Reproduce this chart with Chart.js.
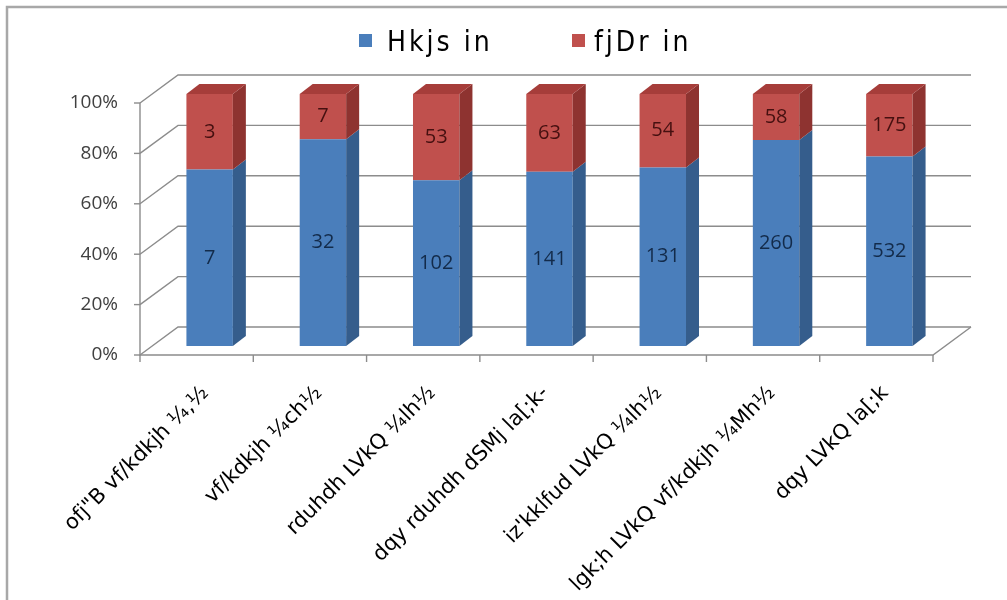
<!DOCTYPE html>
<html>
<head>
<meta charset="utf-8">
<script src="https://cdn.jsdelivr.net/npm/chart.js@4.4.0/dist/chart.umd.min.js"></script>
<style>
  html, body { margin: 0; padding: 0; background: #fff; }
  #wrap { position: relative; width: 1007px; height: 600px; }
</style>
</head>
<body>
<div id="wrap"><canvas id="staffChart"></canvas></div>
<script>
// Chart data (Kruti Dev encoded Hindi, kept as in the source)
const categories = [
  'ofj"B vf/kdkjh ¼,½',
  'vf/kdkjh ¼ch½',
  'rduhdh LVkQ ¼lh½',
  'dqy rduhdh dSMj la[;k-',
  "iz'kklfud LVkQ ¼lh½",
  'lgk;h LVkQ vf/kdkjh ¼Mh½',
  'dqy LVkQ la[;k'
];
const seriesNames = ['Hkjs in', 'fjDr in'];
const filled = [7, 32, 102, 141, 131, 260, 532];
const vacant = [3, 7, 53, 63, 54, 58, 175];
const yTicks = [0, 20, 40, 60, 80, 100];
const yTickLabels = ['0%', '20%', '40%', '60%', '80%', '100%'];

// 100% stacked: share of each category total
const totals = filled.map((v, i) => v + vacant[i]);
const filledPct = filled.map((v, i) => v / totals[i] * 100);
const vacantPct = vacant.map((v, i) => v / totals[i] * 100);

const faces = [
  { front: '#4a7ebb', side: '#355d8c', top: '#5b8bc6', text: '#132b4a' },
  { front: '#c0504d', side: '#8e3330', top: '#a63d3a', text: '#451010' }
];
const DEPTH = { x: 38, y: -28 };      // back wall offset
const BAR_SHIFT = { x: 13, y: -9 };   // bars stand a third of the way in
const BAR_DEPTH = { x: 13, y: -10 };

const threeD = {
  id: 'threeD',
  beforeDraw(chart) {
    const { ctx, chartArea: a } = chart;
    const y = chart.scales.y, x = chart.scales.x;
    ctx.save();
    ctx.fillStyle = '#fff';
    ctx.fillRect(0, 0, chart.width, chart.height);

    // outer frame (left and top only)
    ctx.strokeStyle = '#a8a8a8';
    ctx.lineWidth = 2.5;
    ctx.beginPath();
    ctx.moveTo(7, chart.height);
    ctx.lineTo(7, 7);
    ctx.lineTo(chart.width, 7);
    ctx.stroke();

    // side wall + back wall grid
    ctx.strokeStyle = '#8c8c8c';
    ctx.lineWidth = 1.4;
    yTicks.forEach(function(v) {
      const py = y.getPixelForValue(v);
      ctx.beginPath();
      ctx.moveTo(a.left, py);
      ctx.lineTo(a.left + DEPTH.x, py + DEPTH.y);
      ctx.lineTo(a.right + DEPTH.x, py + DEPTH.y);
      ctx.stroke();
      ctx.beginPath();
      ctx.moveTo(a.left - 6, py);
      ctx.lineTo(a.left, py);
      ctx.stroke();
    });

    // floor front edge and right edge, y axis line
    ctx.beginPath();
    ctx.moveTo(a.left, a.top);
    ctx.lineTo(a.left, a.bottom);
    ctx.lineTo(a.right, a.bottom);
    ctx.lineTo(a.right + DEPTH.x, a.bottom + DEPTH.y);
    ctx.stroke();

    // category tick marks
    for (let i = 0; i <= categories.length; i++) {
      const px = x.getPixelForValue(i - 0.5);
      ctx.beginPath();
      ctx.moveTo(px, a.bottom);
      ctx.lineTo(px, a.bottom + 7);
      ctx.stroke();
    }
    ctx.restore();
  },
  beforeDatasetsDraw(chart) {
    chart.ctx.save();
    chart.ctx.translate(BAR_SHIFT.x, BAR_SHIFT.y);
  },
  afterDatasetsDraw(chart) {
    const ctx = chart.ctx;
    const last = chart.data.datasets.length - 1;
    chart.data.datasets.forEach(function(ds, di) {
      chart.getDatasetMeta(di).data.forEach(function(bar) {
        const p = bar.getProps(['x', 'y', 'base', 'width'], true);
        const l = p.x - p.width / 2, r = p.x + p.width / 2;
        ctx.fillStyle = faces[di].side;
        ctx.beginPath();
        ctx.moveTo(r, p.y);
        ctx.lineTo(r + BAR_DEPTH.x, p.y + BAR_DEPTH.y);
        ctx.lineTo(r + BAR_DEPTH.x, p.base + BAR_DEPTH.y);
        ctx.lineTo(r, p.base);
        ctx.closePath();
        ctx.fill();
        if (di === last) {
          ctx.fillStyle = faces[di].top;
          ctx.beginPath();
          ctx.moveTo(l, p.y);
          ctx.lineTo(l + BAR_DEPTH.x, p.y + BAR_DEPTH.y);
          ctx.lineTo(r + BAR_DEPTH.x, p.y + BAR_DEPTH.y);
          ctx.lineTo(r, p.y);
          ctx.closePath();
          ctx.fill();
        }
      });
    });

    // value labels (raw counts) in the middle of each segment
    ctx.font = '20px "Open Sans", sans-serif';
    ctx.textAlign = 'center';
    ctx.textBaseline = 'middle';
    chart.data.datasets.forEach(function(ds, di) {
      ctx.fillStyle = faces[di].text;
      chart.getDatasetMeta(di).data.forEach(function(bar, i) {
        const p = bar.getProps(['x', 'y', 'base'], true);
        ctx.fillText(String(ds.counts[i]), p.x, (p.y + p.base) / 2);
      });
    });
    ctx.restore();
  }
};

const legendTop = {
  id: 'legendTop',
  afterDraw(chart) {
    const ctx = chart.ctx;
    const spots = [{ box: 359, text: 387 }, { box: 572, text: 594 }];
    ctx.save();
    ctx.font = '28px "Liberation Sans Narrow", "DejaVu Sans Condensed", sans-serif';
    ctx.textBaseline = 'middle';
    ctx.textAlign = 'left';
    if ('letterSpacing' in ctx) ctx.letterSpacing = '3px';
    chart.data.datasets.forEach(function(ds, di) {
      ctx.fillStyle = faces[di].front;
      ctx.fillRect(spots[di].box, 34, 13, 13);
      ctx.fillStyle = '#000';
      ctx.fillText(ds.label, spots[di].text, 44);
    });
    ctx.restore();
  }
};

const ctx = document.getElementById('staffChart').getContext('2d');
const staffChart = new Chart(ctx, {
  type: 'bar',
  data: {
    labels: categories,
    datasets: [
      { label: seriesNames[0], data: filledPct, counts: filled, backgroundColor: faces[0].front, borderWidth: 0 },
      { label: seriesNames[1], data: vacantPct, counts: vacant, backgroundColor: faces[1].front, borderWidth: 0 }
    ]
  },
  options: {
    responsive: true,
    maintainAspectRatio: false,
    animation: false,
    layout: { padding: { top: 103, right: 74, left: 0, bottom: 0 } },
    datasets: { bar: { categoryPercentage: 1, barPercentage: 0.41 } },
    plugins: {
      legend: { display: false },
      tooltip: { enabled: false }
    },
    scales: {
      x: {
        stacked: true,
        grid: { display: false, drawTicks: false },
        border: { display: false },
        ticks: {
          autoSkip: false,
          minRotation: 45,
          maxRotation: 45,
          labelOffset: 9,
          padding: 26,
          color: '#000',
          font: { family: 'DejaVu Sans', size: 21 }
        },
        afterFit: function(s) { s.height = 245; }
      },
      y: {
        stacked: true,
        min: 0,
        max: 100,
        grid: { display: false, drawTicks: false },
        border: { display: false },
        afterBuildTicks: function(s) { s.ticks = yTicks.map(function(v) { return { value: v }; }); },
        ticks: {
          padding: 22,
          color: '#404040',
          font: { family: 'Open Sans', size: 19 },
          callback: function(v, i) { return yTickLabels[i]; }
        },
        afterFit: function(s) { s.width = 140; }
      }
    }
  },
  plugins: [threeD, legendTop]
});
</script>
</body>
</html>
